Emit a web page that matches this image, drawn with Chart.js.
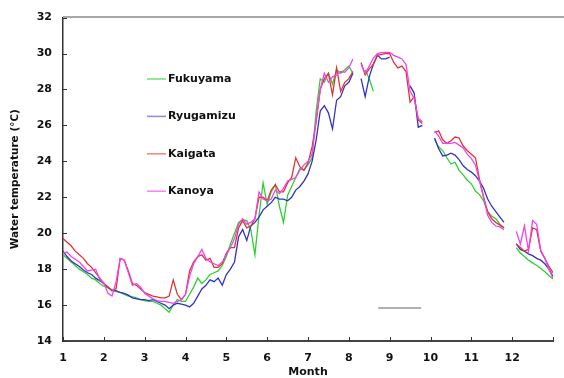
<!DOCTYPE html>
<html><head><meta charset="utf-8">
<script src="https://cdn.jsdelivr.net/npm/chart.js@4"></script>
<style>html,body{margin:0;padding:0;background:#fff}#wrap{width:564px;height:378px;position:relative}</style>
</head><body><div id="wrap"><canvas id="c" width="564" height="378"></canvas></div>
<script>
// x grid: months 1.0 .. 13.0 in steps of 0.1
const months = [];
for (let i = 0; i <= 120; i++) months.push(Math.round((1 + i * 0.1) * 10) / 10);

const monthTicks = [1,2,3,4,5,6,7,8,9,10,11,12];
const tempTicks = [14,16,18,20,22,24,26,28,30,32];
const seriesNames = ['Fukuyama','Ryugamizu','Kaigata','Kanoya'];

const fukuyama = [
 18.8,18.6,18.4,18.2,18.0,17.85,17.7,17.5,17.4,17.2,
 17.05,16.95,16.85,16.75,16.7,16.6,16.5,16.45,16.4,16.3,
 16.25,16.2,16.2,16.1,16.0,15.8,15.6,16.0,16.3,16.2,
 16.2,16.6,17.0,17.5,17.2,17.4,17.7,17.8,17.9,18.2,
 18.7,19.4,20.0,20.6,20.75,20.7,20.2,18.8,21.0,22.8,
 21.6,22.3,22.7,21.5,20.6,22.1,22.6,23.1,23.6,23.5,
 23.8,24.2,26.8,28.6,28.4,28.9,28.3,29.1,28.9,29.1,
 29.3,28.9,null,null,29.1,28.6,27.9,null,null,null,
 null,null,null,null,null,null,null,null,null,null,
 null,25.2,24.8,24.6,24.2,23.85,23.95,23.5,23.25,22.95,
 22.75,22.35,22.15,21.8,21.2,20.95,20.8,20.5,20.3,null,
 null,19.2,18.9,18.7,18.5,18.35,18.2,18.05,17.85,17.65,
 17.45];

const ryugamizu = [
 19.0,18.7,18.45,18.3,18.15,17.95,17.8,17.7,17.5,17.35,
 17.2,17.0,16.8,16.8,16.7,16.65,16.55,16.4,16.35,16.3,
 16.3,16.25,16.3,16.2,16.1,16.0,15.8,16.0,16.1,16.05,
 16.0,15.9,16.1,16.5,16.9,17.1,17.4,17.3,17.5,17.1,
 17.7,18.0,18.4,19.8,20.2,19.6,20.4,20.6,20.9,21.3,
 21.5,21.7,22.0,21.9,21.9,21.8,22.0,22.4,22.6,22.9,
 23.3,24.0,25.2,26.8,27.1,26.7,25.8,27.4,27.6,28.2,
 28.4,28.9,null,28.6,27.6,28.7,29.4,29.9,29.7,29.7,
 29.8,null,null,null,null,28.2,27.8,25.9,26.0,null,
 null,25.3,24.7,24.3,24.35,24.45,24.35,24.1,23.75,23.55,
 23.4,23.2,22.9,22.5,21.9,21.5,21.2,20.9,20.6,null,
 null,19.4,19.1,19.0,18.85,18.75,18.6,18.5,18.3,18.0,
 17.6];

const kaigata = [
 19.7,19.5,19.3,19.0,18.8,18.6,18.3,18.1,17.8,17.5,
 17.2,17.0,16.8,16.9,18.6,18.5,17.9,17.2,17.1,16.9,
 16.7,16.6,16.5,16.45,16.4,16.4,16.5,17.4,16.6,16.3,
 16.6,17.9,18.4,18.7,18.8,18.5,18.6,18.1,18.1,18.3,
 18.9,19.2,19.2,20.3,20.7,20.3,20.4,20.8,22.0,22.0,
 21.8,22.4,22.7,22.3,22.3,22.8,23.1,24.2,23.7,23.5,
 23.9,24.8,26.2,28.0,28.6,28.9,27.7,29.2,27.9,28.4,
 28.6,29.0,null,29.5,28.8,29.15,29.4,29.9,29.95,30.0,
 30.0,29.5,29.2,29.3,29.0,27.3,27.6,26.3,26.1,null,
 null,25.6,25.7,25.2,25.0,25.15,25.35,25.3,24.85,24.6,
 24.4,24.2,23.0,22.0,21.2,20.8,20.6,20.45,20.3,null,
 null,19.4,19.2,19.0,19.1,20.3,20.2,19.0,18.6,18.15,
 17.8];

const kanoya = [
 18.9,18.95,18.7,18.55,18.4,18.15,17.9,17.95,18.0,17.4,
 17.25,16.65,16.5,17.3,18.6,18.5,17.8,17.1,17.2,17.0,
 16.65,16.5,16.35,16.25,16.2,16.2,16.15,16.1,16.2,16.3,
 16.6,17.6,18.3,18.7,19.1,18.6,18.4,18.3,18.2,18.4,
 18.8,19.2,19.7,20.5,20.8,20.5,20.6,20.8,22.3,21.9,
 21.8,21.9,22.4,22.2,22.5,22.9,23.0,23.1,23.5,23.8,
 24.0,24.4,26.3,28.0,28.9,28.4,28.7,28.8,29.0,28.96,
 29.2,29.7,null,29.4,28.9,29.3,29.75,30.0,30.05,30.07,
 30.07,29.9,29.8,29.7,29.4,27.9,27.5,26.4,26.2,null,
 null,25.7,25.4,25.0,25.0,25.0,25.05,24.9,24.75,24.4,
 24.15,23.8,22.9,22.0,21.0,20.6,20.4,20.35,20.2,null,
 null,20.1,19.4,20.4,19.0,20.7,20.5,19.05,18.6,18.0,
 17.5];

// grey horizontal bar drawn in the plot
const barMonths = [8.72, 9.77];
const barTemps = [15.83, 15.83];

const seriesValues = [fukuyama, ryugamizu, kaigata, kanoya];
const seriesColors = ['#2fd12f', '#3232c8', '#e03434', '#ee44ee'];
const legendColors = ['#7ee07e', '#8f8fe6', '#ee8c8c', '#f28cf2'];
const seriesOrder = [4, 3, 2, 1];

function pts(xs, ys) { return xs.map((x, i) => ({x: x, y: ys[i]})); }

const datasets = seriesValues.map((vals, k) => ({
  label: seriesNames[k],
  data: pts(months, vals),
  borderColor: seriesColors[k],
  backgroundColor: seriesColors[k],
  borderWidth: 1.3,
  pointRadius: 0,
  tension: 0,
  spanGaps: false,
  order: seriesOrder[k]
}));
datasets.push({
  label: '',
  data: pts(barMonths, barTemps),
  borderColor: '#b0b0b0',
  borderWidth: 2,
  pointRadius: 0,
  order: 5
});

const FONT = 'DejaVu Sans';

const decor = {
  id: 'decor',
  afterDraw(chart) {
    const ctx = chart.ctx, xs = chart.scales.x, ys = chart.scales.y, ca = chart.chartArea;
    ctx.save();
    // top frame line
    ctx.strokeStyle = '#a8a8a8'; ctx.lineWidth = 2;
    ctx.beginPath(); ctx.moveTo(ca.left, ca.top - 0.5); ctx.lineTo(chart.width, ca.top - 0.5); ctx.stroke();
    // inward tick marks
    ctx.strokeStyle = '#333'; ctx.lineWidth = 1;
    monthTicks.concat([13]).forEach(m => {
      const px = Math.round(xs.getPixelForValue(m)) + 0.5;
      ctx.beginPath(); ctx.moveTo(px, ca.bottom); ctx.lineTo(px, ca.bottom - 4); ctx.stroke();
    });
    tempTicks.forEach(t => {
      const py = Math.round(ys.getPixelForValue(t)) + 0.5;
      ctx.beginPath(); ctx.moveTo(ca.left, py); ctx.lineTo(ca.left + 4, py); ctx.stroke();
    });
    // legend
    const lx = 147, ly0 = 79, dy = 37.4;
    ctx.font = 'bold 11px "' + FONT + '"';
    ctx.textBaseline = 'middle'; ctx.textAlign = 'left';
    seriesNames.forEach((n, k) => {
      const y = ly0 + k * dy;
      ctx.strokeStyle = legendColors[k]; ctx.lineWidth = 1.6;
      ctx.beginPath(); ctx.moveTo(lx, y); ctx.lineTo(lx + 19, y); ctx.stroke();
      ctx.fillStyle = '#111';
      ctx.fillText(n, lx + 21, y);
    });
    ctx.restore();
  }
};

new Chart(document.getElementById('c'), {
  type: 'line',
  data: { datasets: datasets },
  options: {
    responsive: false,
    animation: false,
    devicePixelRatio: 1,
    layout: { padding: { top: 17, right: 1, left: 0, bottom: 0 } },
    plugins: { legend: { display: false }, tooltip: { enabled: false } },
    scales: {
      x: {
        type: 'linear', min: 1, max: 13,
        afterFit(s) { s.height = 37; },
        afterBuildTicks(s) { s.ticks = monthTicks.concat([13]).map(v => ({value: v})); },
        ticks: {
          callback: v => (monthTicks.includes(v) ? String(v) : ''),
          autoSkip: false, maxRotation: 0, padding: 11,
          color: '#111', font: { family: FONT, size: 11, weight: 'bold' }
        },
        grid: { display: false, drawTicks: false },
        border: { display: true, color: '#444', width: 2 },
        title: { display: true, text: 'Month', color: '#111',
          font: { family: FONT, size: 11, weight: 'bold', lineHeight: 1 },
          padding: { top: 0, bottom: 0 } }
      },
      y: {
        type: 'linear', min: 14, max: 32,
        afterFit(s) { s.width = 63; },
        afterBuildTicks(s) { s.ticks = tempTicks.map(v => ({value: v})); },
        ticks: { padding: 11, color: '#111', font: { family: FONT, size: 11, weight: 'bold' } },
        grid: { display: false, drawTicks: false },
        border: { display: true, color: '#333', width: 1.5 },
        title: { display: true, text: 'Water temperature (℃)', color: '#111',
          font: { family: FONT, size: 10.5, weight: 'bold', lineHeight: 1.2 },
          padding: { top: 9, bottom: 0 } }
      }
    }
  },
  plugins: [decor]
});
</script>
</body></html>
